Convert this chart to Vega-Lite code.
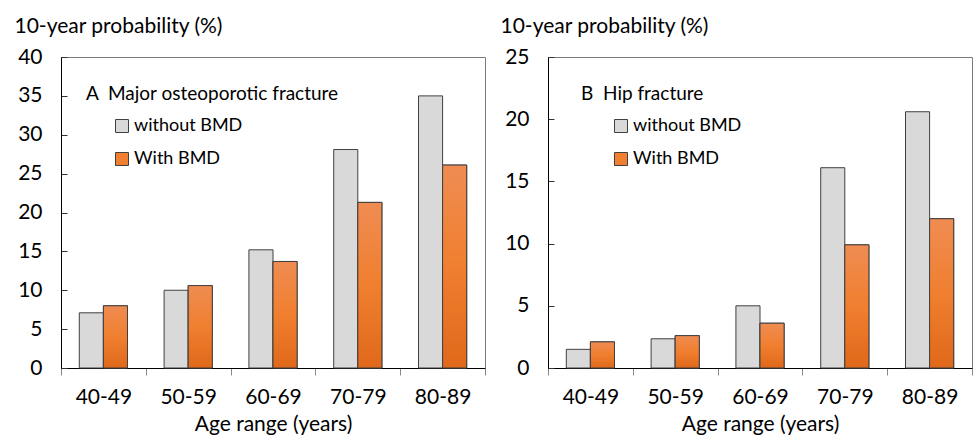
{
  "$schema": "https://vega.github.io/schema/vega-lite/v6.json",
  "background": "white",
  "padding": {"left": 13, "top": 14, "right": 0, "bottom": 0},
  "config": {
    "font": "Lato",
    "view": {"stroke": "#7a7a7a", "strokeWidth": 1},
    "axis": {"grid": false, "domainColor": "#000000", "domainWidth": 1, "labelColor": "#000000", "titleColor": "#000000", "titleFontWeight": "normal"},
    "legend": {"symbolType": "square", "symbolSize": 169, "symbolStrokeColor": "#404040", "symbolStrokeWidth": 1, "labelFontSize": 18, "titleFontSize": 19, "titleFontWeight": "normal", "titleColor": "#000000", "labelColor": "#000000", "padding": 0, "rowPadding": 15, "symbolOffset": 27, "titlePadding": 13, "labelOffset": 3, "titleLimit": 400, "labelLimit": 300}
  },
  "datasets": {
    "A": [
      {"age": "40-49", "series": "without BMD", "value": 7.1},
      {"age": "40-49", "series": "With BMD", "value": 8.0},
      {"age": "50-59", "series": "without BMD", "value": 10.0},
      {"age": "50-59", "series": "With BMD", "value": 10.6},
      {"age": "60-69", "series": "without BMD", "value": 15.2},
      {"age": "60-69", "series": "With BMD", "value": 13.7},
      {"age": "70-79", "series": "without BMD", "value": 28.1},
      {"age": "70-79", "series": "With BMD", "value": 21.3},
      {"age": "80-89", "series": "without BMD", "value": 35.0},
      {"age": "80-89", "series": "With BMD", "value": 26.1}
    ],
    "B": [
      {"age": "40-49", "series": "without BMD", "value": 1.5},
      {"age": "40-49", "series": "With BMD", "value": 2.1},
      {"age": "50-59", "series": "without BMD", "value": 2.35},
      {"age": "50-59", "series": "With BMD", "value": 2.6},
      {"age": "60-69", "series": "without BMD", "value": 5.0},
      {"age": "60-69", "series": "With BMD", "value": 3.6},
      {"age": "70-79", "series": "without BMD", "value": 16.1},
      {"age": "70-79", "series": "With BMD", "value": 9.9},
      {"age": "80-89", "series": "without BMD", "value": 20.6},
      {"age": "80-89", "series": "With BMD", "value": 12.0}
    ]
  },
  "resolve": {"scale": {"color": "independent", "y": "independent"}, "legend": {"color": "independent"}},
  "spacing": 13,
  "hconcat": [
    {
      "width": 424,
      "height": 311,
      "data": {"name": "A"},
      "encoding": {
        "x": {"field": "age", "type": "nominal", "scale": {"paddingInner": 0, "paddingOuter": 0},
          "axis": {"title": "Age range (years)", "labelAngle": 0, "tickBand": "extent", "tickSize": 7, "tickColor": "#888888", "labelFontSize": 21, "labelPadding": 11, "titleFontSize": 21, "titlePadding": 6}},
        "xOffset": {"field": "series", "type": "nominal", "scale": {"domain": ["without BMD", "With BMD"], "paddingInner": 0, "paddingOuter": 0.76}},
        "y": {"field": "value", "type": "quantitative", "scale": {"domain": [0, 40]},
          "axis": {"values": [0, 5, 10, 15, 20, 25, 30, 35, 40], "title": "10-year probability (%)", "titleAngle": 0, "titleAlign": "left", "titleBaseline": "alphabetic", "titleX": -47, "titleY": -25, "titleFontSize": 21, "tickSize": -6, "tickColor": "#333333", "labelFontSize": 21, "labelPadding": 25}}
      },
      "layer": [
        {
          "mark": {"type": "bar", "stroke": "#404040", "strokeWidth": 1},
          "encoding": {
            "color": {"field": "series", "type": "nominal", "scale": {"domain": ["without BMD", "With BMD"], "range": ["#d9d9d9", "#f07f30"]},
              "legend": {"title": "A\u00a0 Major osteoporotic fracture", "orient": "none", "legendX": 25, "legendY": 28}}
          }
        },
        {
          "transform": [{"filter": "datum.series === 'With BMD'"}],
          "mark": {"type": "bar", "stroke": "#404040", "strokeWidth": 1,
            "fill": {"gradient": "linear", "x1": 0, "y1": 0, "x2": 0, "y2": 1, "stops": [{"offset": 0, "color": "#ef8c52"}, {"offset": 0.5, "color": "#f07f2f"}, {"offset": 1, "color": "#e0681a"}]}}
        }
      ]
    },
    {
      "width": 424,
      "height": 311,
      "data": {"name": "B"},
      "encoding": {
        "x": {"field": "age", "type": "nominal", "scale": {"paddingInner": 0, "paddingOuter": 0},
          "axis": {"title": "Age range (years)", "labelAngle": 0, "tickBand": "extent", "tickSize": 7, "tickColor": "#888888", "labelFontSize": 21, "labelPadding": 11, "titleFontSize": 21, "titlePadding": 6}},
        "xOffset": {"field": "series", "type": "nominal", "scale": {"domain": ["without BMD", "With BMD"], "paddingInner": 0, "paddingOuter": 0.76}},
        "y": {"field": "value", "type": "quantitative", "scale": {"domain": [0, 25]},
          "axis": {"values": [0, 5, 10, 15, 20, 25], "title": "10-year probability (%)", "titleAngle": 0, "titleAlign": "left", "titleBaseline": "alphabetic", "titleX": -48, "titleY": -25, "titleFontSize": 21, "tickSize": -6, "tickColor": "#333333", "labelFontSize": 21, "labelPadding": 25}}
      },
      "layer": [
        {
          "mark": {"type": "bar", "stroke": "#404040", "strokeWidth": 1},
          "encoding": {
            "color": {"field": "series", "type": "nominal", "scale": {"domain": ["without BMD", "With BMD"], "range": ["#d9d9d9", "#f07f30"]},
              "legend": {"title": "B\u00a0 Hip fracture", "orient": "none", "legendX": 33, "legendY": 28, "symbolOffset": 31}}
          }
        },
        {
          "transform": [{"filter": "datum.series === 'With BMD'"}],
          "mark": {"type": "bar", "stroke": "#404040", "strokeWidth": 1,
            "fill": {"gradient": "linear", "x1": 0, "y1": 0, "x2": 0, "y2": 1, "stops": [{"offset": 0, "color": "#ef8c52"}, {"offset": 0.5, "color": "#f07f2f"}, {"offset": 1, "color": "#e0681a"}]}}
        }
      ]
    }
  ]
}
